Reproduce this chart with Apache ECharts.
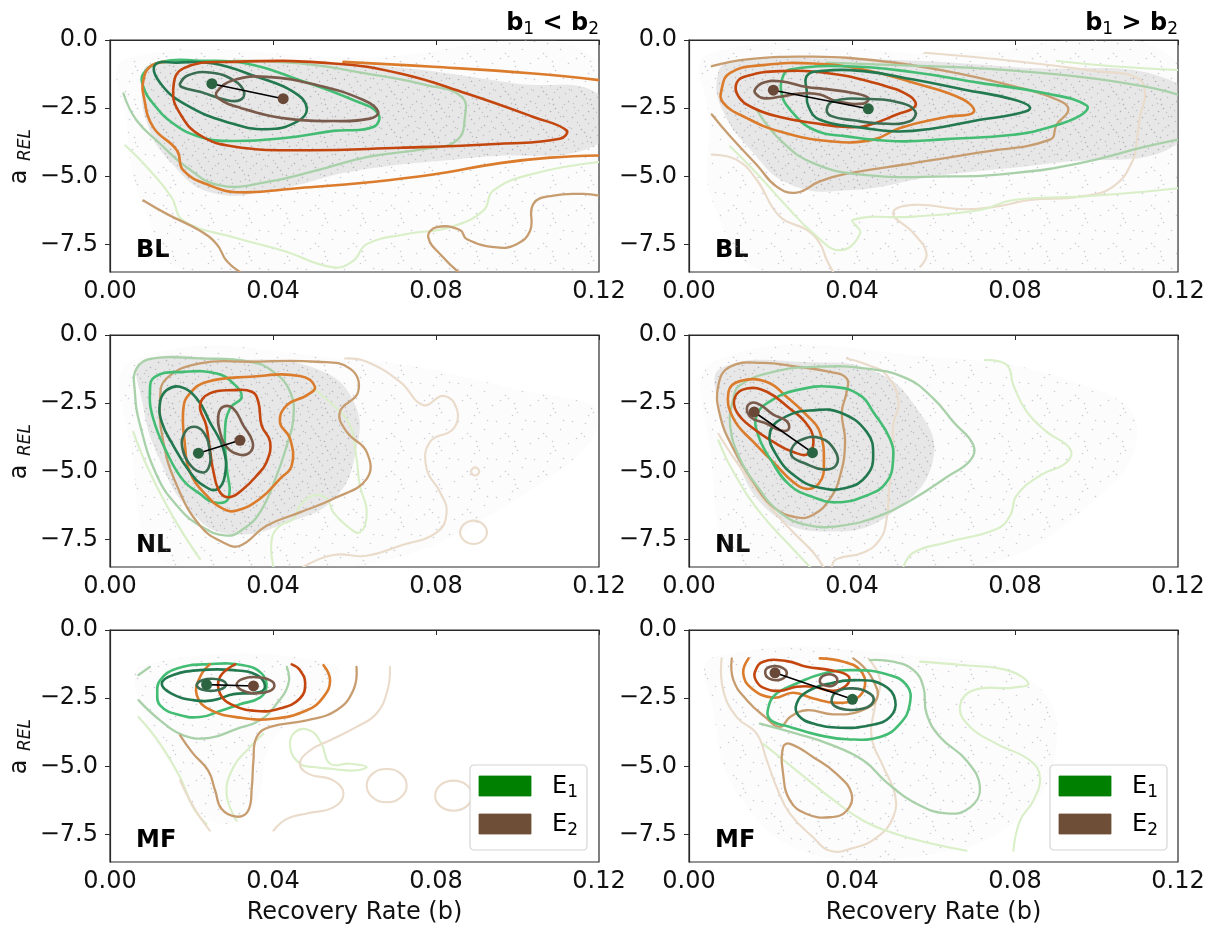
<!DOCTYPE html>
<html><head><meta charset="utf-8">
<script src="https://cdn.jsdelivr.net/npm/echarts@6/dist/echarts.min.js"></script>
<style>html,body{margin:0;padding:0;background:#fff}#c{width:1211px;height:931px}</style>
</head><body><div id="c"></div>
<script>
// ---------- DATA ----------
const xTicks = [0, 0.04, 0.08, 0.12];
const yTicks = [0, -2.5, -5, -7.5];
const panelLabels = ['BL', 'BL', 'NL', 'NL', 'MF', 'MF'];
const columnTitles = [['1', '<', '2'], ['1', '>', '2']];
const legendNames = ['E1', 'E2'];
const meansE1 = [[0.025,-1.6],[0.044,-2.52],[0.0217,-4.33],[0.0303,-4.31],[0.0237,-2.0],[0.0401,-2.54]];
const meansE2 = [[0.0425,-2.15],[0.0207,-1.84],[0.0319,-3.86],[0.016,-2.82],[0.0352,-2.05],[0.0211,-1.57]];

// scatter-cloud density outlines (outer sparse, inner dense)
const cloud_tl_out = [[0.004,-0.7],[0.06,-0.65],[0.12,-0.8],[0.12,-8.5],[0.02,-8.5],[0.008,-6],[0.004,-3]];
const cloud_tl_in = [[0.01,-0.9],[0.04,-0.8],[0.07,-1.0],[0.1,-1.6],[0.12,-2.0],[0.12,-3.8],[0.09,-4.3],[0.06,-4.8],[0.04,-5.5],[0.025,-5.6],[0.015,-4.5],[0.009,-3],[0.008,-1.5]];
const cloud_tr_out = [[0.005,-0.5],[0.06,-0.5],[0.12,-0.8],[0.12,-8.5],[0.02,-8.5],[0.006,-6],[0.005,-3]];
const cloud_tr_in = [[0.01,-0.8],[0.04,-0.7],[0.08,-1.0],[0.12,-1.6],[0.12,-3.8],[0.09,-4.5],[0.06,-5.0],[0.04,-5.5],[0.025,-5.3],[0.015,-4],[0.008,-2.5],[0.007,-1.3]];
const cloud_ml_out = [[0.006,-0.9],[0.06,-0.9],[0.1,-2],[0.12,-3],[0.1,-6],[0.06,-8.5],[0.015,-8.5],[0.005,-4]];
const cloud_ml_in = [[0.008,-1.0],[0.03,-0.9],[0.05,-1.2],[0.06,-2.5],[0.06,-4.5],[0.055,-6],[0.045,-6.8],[0.03,-7.3],[0.02,-6.5],[0.012,-4.5],[0.008,-2.5]];
const cloud_mr_out = [[0.007,-0.9],[0.06,-0.8],[0.1,-2],[0.11,-3.5],[0.1,-6],[0.07,-8.5],[0.015,-8.5],[0.005,-4]];
const cloud_mr_in = [[0.008,-1.2],[0.03,-1.0],[0.045,-1.3],[0.055,-2.5],[0.06,-4.5],[0.05,-6.5],[0.035,-7.2],[0.02,-6.5],[0.01,-4],[0.007,-2.5]];
const cloud_bl_in = [[0.008,-1.3],[0.055,-1.3],[0.05,-3],[0.04,-4],[0.035,-6.5],[0.025,-7],[0.015,-5],[0.008,-3]];
const cloud_br_in = [[0.006,-1.0],[0.06,-1.0],[0.085,-2],[0.09,-4.5],[0.08,-7],[0.06,-8.2],[0.03,-8.2],[0.012,-6],[0.006,-3]];

// ---- top-left (BL, b1<b2) ----
const tl_e1_1 = [[0.0172,-1.59],[0.0192,-1.29],[0.0245,-1.19],[0.0303,-1.47],[0.0329,-1.9],[0.0319,-2.2],[0.0286,-2.2],[0.0221,-1.9],[0.0176,-1.72]];
const tl_e1_2 = [[0.011,-0.92],[0.0164,-0.83],[0.0254,-0.86],[0.036,-1.35],[0.045,-1.9],[0.0483,-2.51],[0.0458,-3.0],[0.0384,-3.27],[0.0286,-3.0],[0.0188,-2.39],[0.0127,-1.65]];
const tl_e1_3 = [[0.0082,-1.23],[0.0127,-0.8],[0.0221,-0.76],[0.0335,-0.86],[0.0466,-1.47],[0.0597,-2.2],[0.0658,-2.7],[0.0646,-3.19],[0.0548,-3.33],[0.0434,-3.58],[0.0303,-3.7],[0.0221,-3.55],[0.0155,-3.06],[0.0106,-2.33],[0.0082,-1.72]];
const tl_e1_4 = [[0.0033,-1.96],[0.0065,-2.94],[0.0123,-3.8],[0.0188,-4.66],[0.027,-5.33],[0.0384,-5.21],[0.0507,-4.78],[0.063,-4.29],[0.0777,-3.98],[0.0851,-3.68],[0.0871,-2.82],[0.0863,-2.08],[0.0777,-1.65],[0.063,-1.23],[0.0466,-0.86],[0.0303,-0.76]];
const tl_e1_5 = [[0.0037,-3.86],[0.0098,-4.78],[0.0151,-5.76],[0.018,-6.62],[0.0303,-7.23],[0.0425,-7.72],[0.0548,-8.33],[0.0597,-8.09],[0.063,-7.48],[0.0728,-7.11],[0.0834,-6.86],[0.0916,-6.25],[0.0941,-5.51],[0.1039,-4.9],[0.12,-4.47]];
const tl_e2_1 = [[0.0262,-1.9],[0.0303,-1.47],[0.0384,-1.35],[0.0507,-1.65],[0.0622,-2.2],[0.0658,-2.63],[0.0638,-2.88],[0.0548,-2.97],[0.0434,-2.88],[0.0319,-2.48],[0.0266,-2.14]];
const tl_e2_2 = [[0.0155,-1.84],[0.018,-1.04],[0.0303,-0.8],[0.0548,-0.86],[0.0712,-1.23],[0.0875,-1.96],[0.1039,-2.82],[0.112,-3.31],[0.1104,-3.62],[0.0957,-3.8],[0.0712,-3.95],[0.0466,-4.04],[0.0303,-3.9],[0.0221,-3.49],[0.0172,-2.7]];
const tl_e2_3a = [[0.0135,-0.8],[0.0098,-0.98],[0.0082,-1.47],[0.0083,-2.08],[0.0106,-3.19],[0.0164,-4.04],[0.018,-4.78],[0.0245,-5.33],[0.0319,-5.58],[0.0466,-5.42],[0.063,-5.22],[0.0793,-4.93],[0.0957,-4.51],[0.108,-4.31],[0.12,-4.23]];
const tl_e2_3b = [[0.0573,-0.8],[0.0793,-0.98],[0.1039,-1.23],[0.12,-1.47]];
const tl_e2_4a = [[0.0082,-5.88],[0.0139,-6.37],[0.0221,-6.99],[0.0262,-7.48],[0.0286,-8.09],[0.0319,-8.5]];
const tl_e2_4b = [[0.0855,-8.5],[0.0818,-7.97],[0.0781,-7.23],[0.0802,-6.86],[0.0859,-6.96],[0.0875,-7.29],[0.0949,-7.6],[0.0998,-7.48],[0.1031,-6.99],[0.1039,-6.0],[0.1088,-5.7],[0.1162,-5.64],[0.12,-5.7]];

// ---- top-right (BL, b1>b2) ----
const tr_e2_1 = [[0.0162,-1.81],[0.0182,-1.57],[0.0223,-1.51],[0.0289,-1.72],[0.033,-1.79],[0.0403,-1.94],[0.044,-2.12],[0.0428,-2.33],[0.0362,-2.24],[0.0321,-2.0],[0.0272,-1.96],[0.0223,-2.08],[0.0182,-2.13],[0.0164,-1.97]];
const tr_e2_2 = [[0.0117,-1.57],[0.0142,-1.32],[0.0223,-1.14],[0.0346,-1.23],[0.0469,-1.63],[0.0542,-2.06],[0.0555,-2.43],[0.051,-2.73],[0.0436,-3.14],[0.0387,-3.19],[0.0305,-3.04],[0.0223,-2.82],[0.0158,-2.49],[0.0121,-2.06]];
const tr_e2_3 = [[0.008,-1.81],[0.0101,-1.2],[0.0182,-0.92],[0.0305,-0.86],[0.0428,-1.08],[0.0551,-1.57],[0.0673,-2.18],[0.0698,-2.65],[0.0632,-2.82],[0.0518,-3.22],[0.0452,-3.65],[0.0346,-3.71],[0.0223,-3.35],[0.0142,-2.86],[0.0084,-2.3]];
const tr_e2_4 = [[0.0056,-0.96],[0.0142,-0.71],[0.0305,-0.61],[0.0469,-0.77],[0.0632,-1.14],[0.0796,-1.69],[0.0902,-2.18],[0.0931,-2.55],[0.0902,-3.1],[0.0886,-3.65],[0.0714,-4.12],[0.0551,-4.51],[0.0387,-4.9],[0.0321,-5.18],[0.0264,-5.59],[0.0215,-5.37],[0.0166,-4.57],[0.0101,-3.53],[0.0056,-2.73]];
const tr_e2_5a = [[0.0579,-0.47],[0.0796,-0.77],[0.1,-1.14],[0.1099,-1.38],[0.1119,-1.94],[0.1107,-2.79],[0.1099,-3.65],[0.109,-4.39],[0.1041,-5.37],[0.096,-5.74],[0.0837,-5.86],[0.0755,-6.1],[0.0673,-6.2],[0.0551,-6.04],[0.0501,-6.35],[0.0551,-7.08],[0.0583,-7.82],[0.0567,-8.31]];
const tr_e2_5b = [[0.0056,-4.2],[0.0117,-4.39],[0.0166,-5.12],[0.0223,-6.47],[0.0289,-6.96],[0.0321,-7.45],[0.0338,-8.06],[0.0354,-8.5]];
const tr_e1_1 = [[0.0338,-2.55],[0.0354,-2.24],[0.0436,-2.16],[0.0518,-2.3],[0.0555,-2.61],[0.0542,-2.98],[0.0469,-3.06],[0.0403,-2.94],[0.035,-2.79]];
const tr_e1_2 = [[0.0289,-1.32],[0.0321,-1.14],[0.0428,-1.14],[0.0551,-1.45],[0.0673,-1.81],[0.0796,-2.18],[0.0837,-2.49],[0.0796,-2.73],[0.0714,-2.92],[0.0591,-3.26],[0.051,-3.35],[0.0428,-3.22],[0.0321,-2.92],[0.0293,-2.43],[0.0289,-1.88]];
const tr_e1_3 = [[0.0231,-1.32],[0.0248,-1.08],[0.0387,-0.96],[0.0551,-1.18],[0.0714,-1.57],[0.0878,-1.96],[0.0976,-2.4],[0.096,-2.77],[0.0878,-3.22],[0.0796,-3.47],[0.0632,-3.63],[0.051,-3.71],[0.0387,-3.53],[0.0305,-3.28],[0.0248,-2.55],[0.0227,-1.94]];
const tr_e1_4a = [[0.0338,-0.83],[0.051,-0.92],[0.0714,-1.04],[0.096,-1.35],[0.1123,-1.72],[0.12,-2.0]];
const tr_e1_4b = [[0.0166,-2.55],[0.0223,-3.65],[0.0305,-4.51],[0.0428,-4.94],[0.0632,-5.0],[0.0796,-4.88],[0.096,-4.51],[0.1123,-3.9],[0.12,-3.65]];
const tr_e1_5a = [[0.0902,-0.77],[0.1041,-0.96],[0.12,-1.1]];
const tr_e1_5b = [[0.0101,-3.9],[0.0166,-4.88],[0.024,-6.1],[0.0305,-7.08],[0.037,-7.7],[0.042,-7.08],[0.0403,-6.59],[0.0551,-6.47],[0.0714,-6.23],[0.0796,-5.86],[0.096,-5.74],[0.1123,-5.55],[0.12,-5.43]];

// ---- middle-left (NL, b1<b2) ----
const ml_e1_1 = [[0.018,-3.68],[0.02,-3.37],[0.0229,-3.55],[0.0245,-4.29],[0.0241,-4.9],[0.0221,-5.02],[0.0192,-4.66],[0.0178,-4.17]];
const ml_e1_2 = [[0.0123,-2.45],[0.0139,-2.02],[0.0172,-1.9],[0.0213,-2.33],[0.0245,-3.19],[0.0278,-4.17],[0.0282,-5.15],[0.0262,-5.66],[0.0229,-5.51],[0.0196,-5.02],[0.0155,-4.04],[0.0127,-3.19]];
const ml_e1_3 = [[0.0098,-2.08],[0.011,-1.53],[0.018,-1.35],[0.0262,-1.41],[0.0303,-1.78],[0.0323,-2.27],[0.0294,-2.7],[0.0282,-3.55],[0.0286,-4.78],[0.029,-6.0],[0.0254,-6.13],[0.0221,-5.82],[0.018,-5.33],[0.0139,-4.29],[0.0106,-3.06]];
const ml_e1_4 = [[0.0065,-1.23],[0.0106,-0.86],[0.0221,-0.86],[0.0344,-0.98],[0.0401,-1.35],[0.0442,-2.08],[0.045,-3.06],[0.0434,-4.04],[0.0409,-5.15],[0.0368,-6.5],[0.0327,-7.11],[0.0286,-7.35],[0.0221,-6.99],[0.0164,-6.25],[0.0115,-5.15],[0.0074,-3.31],[0.0061,-2.08]];
const ml_e1_5a = [[0.0057,-3.55],[0.009,-4.78],[0.0139,-6.25],[0.0188,-7.48],[0.0221,-8.21]];
const ml_e1_5b = [[0.0401,-8.5],[0.0397,-7.48],[0.0417,-6.99],[0.045,-6.74],[0.0466,-6.25],[0.0499,-5.88],[0.0532,-6.0],[0.0548,-6.5],[0.0581,-6.99],[0.0613,-7.23],[0.063,-6.5],[0.0613,-5.51],[0.0605,-4.53],[0.0589,-3.31],[0.0548,-2.57],[0.0499,-1.96]];
const ml_e2_1 = [[0.0266,-2.94],[0.0278,-2.63],[0.0303,-2.7],[0.0327,-3.31],[0.035,-3.92],[0.0344,-4.29],[0.0319,-4.39],[0.0286,-4.1],[0.027,-3.55]];
const ml_e2_2 = [[0.0221,-2.57],[0.0245,-2.14],[0.0303,-2.02],[0.0348,-2.08],[0.0364,-2.45],[0.0372,-3.31],[0.0393,-3.92],[0.0384,-4.66],[0.036,-5.15],[0.0327,-5.64],[0.0294,-5.94],[0.027,-5.76],[0.0254,-5.02],[0.0245,-4.17],[0.0236,-3.31]];
const ml_e2_3 = [[0.018,-2.7],[0.0196,-2.14],[0.0237,-1.72],[0.0344,-1.53],[0.0466,-1.5],[0.0503,-1.9],[0.0483,-2.21],[0.0434,-2.57],[0.0417,-3.19],[0.0442,-3.8],[0.0446,-4.78],[0.0417,-5.27],[0.0368,-6.0],[0.0311,-6.43],[0.0278,-6.37],[0.0237,-5.88],[0.0196,-5.02],[0.0184,-4.04]];
const ml_e2_4 = [[0.0123,-2.33],[0.0139,-1.59],[0.0221,-1.04],[0.0344,-0.98],[0.0507,-0.98],[0.0589,-1.23],[0.0609,-2.08],[0.0564,-2.82],[0.0581,-3.55],[0.063,-4.29],[0.063,-5.27],[0.0548,-6.0],[0.0466,-6.5],[0.0384,-6.99],[0.0319,-7.72],[0.0278,-7.6],[0.0221,-6.99],[0.0164,-5.51],[0.0131,-3.92]];
const ml_e2_5a = [[0.0577,-0.86],[0.063,-0.98],[0.0712,-1.72],[0.0769,-2.57],[0.0818,-2.23],[0.0851,-2.7],[0.0843,-3.43],[0.0785,-3.92],[0.0777,-4.9],[0.081,-5.76],[0.0826,-6.5],[0.0802,-7.23],[0.0712,-7.72],[0.063,-8.09],[0.0548,-8.06],[0.0474,-8.5]];
const ml_e2_5b = [[0.0896,-4.85],[0.0906,-5.0],[0.0896,-5.15],[0.0886,-5.0]];
const ml_e2_5c = [[0.0892,-6.8],[0.0915,-6.93],[0.0925,-7.23],[0.0915,-7.53],[0.0892,-7.66],[0.0869,-7.53],[0.0859,-7.23],[0.0869,-6.93]];

// ---- middle-right (NL, b1>b2) ----
const mr_e2_1 = [[0.0142,-2.7],[0.0154,-2.48],[0.0174,-2.55],[0.0207,-2.92],[0.024,-3.16],[0.0244,-3.46],[0.0223,-3.49],[0.0191,-3.25],[0.0154,-3.04]];
const mr_e2_2 = [[0.0113,-2.27],[0.0142,-1.96],[0.0191,-2.08],[0.0248,-2.7],[0.0285,-3.19],[0.0305,-3.8],[0.0293,-4.35],[0.0256,-4.29],[0.0207,-3.92],[0.0158,-3.43],[0.0117,-2.82]];
const mr_e2_3 = [[0.0097,-2.08],[0.0125,-1.69],[0.0191,-1.72],[0.024,-2.27],[0.0289,-2.94],[0.0321,-3.55],[0.0331,-4.78],[0.0321,-5.39],[0.0293,-5.64],[0.0256,-5.39],[0.0207,-4.66],[0.0158,-3.92],[0.0109,-3.06]];
const mr_e2_4 = [[0.0072,-1.84],[0.0101,-1.16],[0.0182,-1.02],[0.0264,-1.16],[0.0346,-1.35],[0.0387,-1.59],[0.0387,-2.08],[0.0375,-2.82],[0.0383,-3.92],[0.0371,-5.15],[0.0346,-6.0],[0.0305,-6.59],[0.0264,-6.68],[0.0207,-6.31],[0.0158,-5.39],[0.0109,-4.17],[0.0076,-2.94]];
const mr_e2_5a = [[0.0387,-0.86],[0.0436,-1.08],[0.0485,-1.47],[0.0514,-2.45],[0.0501,-3.31],[0.0501,-4.53],[0.0492,-5.51],[0.0485,-6.74],[0.0469,-7.48],[0.0428,-7.97],[0.0362,-8.21],[0.035,-8.5]];
const mr_e2_5b = [[0.0072,-3.62],[0.0117,-4.66],[0.0182,-6.0],[0.0248,-7.11],[0.0305,-7.97],[0.033,-8.5]];
const mr_e1_1 = [[0.0252,-4.17],[0.0272,-3.86],[0.0321,-3.77],[0.0358,-4.23],[0.0362,-4.75],[0.033,-4.93],[0.0281,-4.68],[0.0254,-4.47]];
const mr_e1_2 = [[0.0199,-3.55],[0.024,-2.97],[0.0305,-2.76],[0.0371,-2.84],[0.0436,-3.55],[0.0452,-4.41],[0.0436,-5.15],[0.0387,-5.6],[0.0321,-5.6],[0.0264,-5.21],[0.0215,-4.41]];
const mr_e1_3 = [[0.0166,-2.94],[0.0199,-2.43],[0.0264,-2.02],[0.0354,-1.9],[0.042,-2.21],[0.0452,-2.82],[0.0493,-3.8],[0.0501,-4.53],[0.0485,-5.39],[0.0436,-5.88],[0.0362,-6.13],[0.0305,-5.94],[0.0248,-5.51],[0.0199,-4.53],[0.017,-3.68]];
const mr_e1_4 = [[0.0125,-1.84],[0.0207,-1.35],[0.0321,-1.16],[0.0436,-1.23],[0.0534,-1.59],[0.06,-2.33],[0.0649,-3.19],[0.0698,-4.04],[0.069,-4.6],[0.0632,-5.21],[0.0551,-6.0],[0.0469,-6.62],[0.0371,-6.99],[0.0289,-6.96],[0.0223,-6.5],[0.0166,-5.51],[0.0125,-4.53],[0.0101,-3.31],[0.0109,-2.33]];
const mr_e1_5a = [[0.0726,-0.92],[0.078,-1.1],[0.0796,-1.84],[0.0829,-2.82],[0.0878,-3.55],[0.0935,-4.17],[0.0927,-4.66],[0.0861,-5.15],[0.0804,-5.88],[0.0788,-6.62],[0.0755,-7.11],[0.0632,-7.6],[0.0551,-7.97],[0.0526,-8.5]];
const mr_e1_5b = [[0.0072,-3.86],[0.0109,-5.02],[0.0174,-6.5],[0.0248,-7.72],[0.0297,-8.5]];

// ---- bottom-left (MF, b1<b2) ----
const bl_e1_1 = [[0.0213,-1.99],[0.0237,-1.8],[0.0274,-1.84],[0.0285,-2.02],[0.0262,-2.21],[0.0225,-2.18]];
const bl_e1_2 = [[0.0127,-1.96],[0.0155,-1.65],[0.0221,-1.47],[0.0303,-1.47],[0.036,-1.65],[0.038,-2.02],[0.0368,-2.27],[0.0303,-2.35],[0.0254,-2.57],[0.0204,-2.57],[0.0151,-2.33]];
const bl_e1_3 = [[0.0116,-2.33],[0.0123,-1.84],[0.0164,-1.41],[0.0245,-1.25],[0.0327,-1.29],[0.0372,-1.59],[0.0384,-2.08],[0.0368,-2.48],[0.0319,-2.72],[0.027,-2.97],[0.0221,-3.19],[0.0164,-3.09],[0.0123,-2.76]];
const bl_e1_4a = [[0.007,-2.57],[0.0123,-3.31],[0.018,-3.86],[0.0245,-3.95],[0.0311,-3.62],[0.0368,-3.31],[0.0409,-2.7],[0.0438,-1.96],[0.0434,-1.35]];
const bl_e1_4b = [[0.007,-1.65],[0.0098,-1.35]];
const bl_e1_5a = [[0.007,-3.19],[0.0123,-4.17],[0.0172,-5.39],[0.0204,-6.5],[0.0237,-7.11]];
const bl_e1_5b = [[0.0466,-4.9],[0.0442,-4.29],[0.0454,-3.74],[0.0491,-3.68],[0.0519,-4.17],[0.054,-4.9],[0.0589,-4.9],[0.063,-5.02],[0.0597,-5.15],[0.0548,-5.09],[0.0499,-5.02]];
const bl_e1_5c = [[0.0311,-6.99],[0.0286,-6.0],[0.0303,-5.02],[0.0336,-4.41],[0.0376,-3.8]];
const bl_e2_1 = [[0.0311,-2.02],[0.0327,-1.79],[0.0368,-1.74],[0.0399,-1.9],[0.0401,-2.14],[0.0376,-2.3],[0.0335,-2.27]];
const bl_e2_2 = [[0.0307,-1.26],[0.027,-1.72],[0.027,-2.33],[0.0303,-2.76],[0.036,-2.97],[0.0417,-2.88],[0.0466,-2.51],[0.0479,-1.96],[0.0466,-1.47],[0.0446,-1.26]];
const bl_e2_3 = [[0.0245,-1.26],[0.0221,-1.72],[0.0213,-2.39],[0.0245,-2.92],[0.0319,-3.21],[0.0401,-3.25],[0.0483,-2.94],[0.0524,-2.45],[0.054,-1.84],[0.0524,-1.29]];
const bl_e2_4 = [[0.0172,-3.86],[0.0204,-4.53],[0.0241,-5.15],[0.0258,-5.88],[0.0274,-6.56],[0.0311,-6.84],[0.0339,-6.62],[0.0348,-5.76],[0.0352,-4.78],[0.036,-3.92],[0.0393,-3.55],[0.0483,-3.31],[0.0556,-2.94],[0.0597,-2.21],[0.0605,-1.35]];
const bl_e2_5a = [[0.0687,-1.35],[0.0681,-2.21],[0.0654,-3.06],[0.0605,-3.55],[0.054,-4.04],[0.0491,-4.41],[0.0466,-4.9],[0.0487,-5.27],[0.0548,-5.51],[0.0573,-6.0],[0.0548,-6.5],[0.0483,-6.72],[0.0434,-6.92],[0.0401,-7.35]];
const bl_e2_5b = [[0.0679,-5.09],[0.0714,-5.27],[0.0728,-5.7],[0.0714,-6.13],[0.0679,-6.31],[0.0644,-6.13],[0.063,-5.7],[0.0644,-5.27]];
const bl_e2_5c = [[0.0843,-5.52],[0.0875,-5.68],[0.0888,-6.07],[0.0875,-6.46],[0.0843,-6.62],[0.0811,-6.46],[0.0798,-6.07],[0.0811,-5.68]];
const bl_e2_5d = [[0.0172,-5.51],[0.0196,-6.25],[0.0221,-6.86],[0.0245,-7.35]];

// ---- bottom-right (MF, b1>b2) ----
const br_e2_1a = [[0.0187,-1.53],[0.0199,-1.35],[0.0223,-1.35],[0.024,-1.57],[0.0225,-1.81],[0.0197,-1.78]];
const br_e2_1b = [[0.0321,-1.84],[0.0334,-1.65],[0.0354,-1.65],[0.0364,-1.84],[0.0354,-2.03],[0.033,-2.02]];
const br_e2_2 = [[0.0162,-1.53],[0.0182,-1.16],[0.024,-1.14],[0.0289,-1.35],[0.0346,-1.47],[0.0391,-1.69],[0.0387,-2.02],[0.0354,-2.23],[0.0305,-2.08],[0.0264,-2.08],[0.0223,-2.23],[0.0182,-2.11],[0.0164,-1.84]];
const br_e2_3 = [[0.0146,-1.04],[0.0133,-1.59],[0.0154,-2.14],[0.0207,-2.48],[0.0256,-2.3],[0.0305,-2.51],[0.0362,-2.67],[0.0411,-2.51],[0.0432,-2.02],[0.042,-1.47],[0.0379,-1.16],[0.0321,-1.04]];
const br_e2_4a = [[0.0105,-1.04],[0.0109,-1.84],[0.0142,-2.57],[0.0187,-3.19],[0.0223,-3.55],[0.0248,-3.19],[0.0289,-2.94],[0.0354,-3.09],[0.042,-2.97],[0.0461,-2.51],[0.0452,-1.84],[0.0428,-1.35],[0.0403,-1.04]];
const br_e2_4b = [[0.0231,-4.29],[0.0248,-4.17],[0.0305,-4.66],[0.0362,-5.27],[0.0399,-6.0],[0.0387,-6.62],[0.0346,-6.86],[0.0289,-6.74],[0.0248,-6.25],[0.0231,-5.27]];
const br_e2_5 = [[0.008,-1.04],[0.0084,-2.21],[0.0117,-3.19],[0.0166,-3.8],[0.0191,-4.78],[0.0215,-5.76],[0.0248,-6.74],[0.0305,-7.6],[0.0346,-8.09],[0.0403,-7.99],[0.0461,-7.6],[0.0501,-6.86],[0.0505,-6.0],[0.0477,-5.02],[0.0448,-3.92],[0.0456,-2.82],[0.0469,-1.84],[0.044,-1.04]];
const br_e1_1 = [[0.035,-2.57],[0.0362,-2.27],[0.0403,-2.14],[0.0444,-2.33],[0.0452,-2.63],[0.0428,-2.88],[0.0387,-2.92],[0.0358,-2.79]];
const br_e1_2 = [[0.0264,-2.7],[0.0289,-2.27],[0.0346,-1.96],[0.042,-1.84],[0.0477,-2.02],[0.0506,-2.57],[0.0493,-3.19],[0.0444,-3.49],[0.0371,-3.58],[0.0305,-3.43],[0.0268,-3.12]];
const br_e1_3 = [[0.0195,-2.82],[0.0215,-2.33],[0.0264,-1.96],[0.033,-1.59],[0.0403,-1.47],[0.0485,-1.62],[0.0534,-2.02],[0.0542,-2.7],[0.0518,-3.43],[0.0469,-3.92],[0.0387,-4.0],[0.0321,-3.86],[0.0248,-3.55],[0.0199,-3.28]];
const br_e1_4 = [[0.0174,-3.43],[0.0264,-3.8],[0.0346,-4.19],[0.0428,-4.78],[0.0485,-5.58],[0.0551,-6.31],[0.0632,-6.72],[0.069,-6.5],[0.0714,-5.76],[0.0681,-4.78],[0.0616,-3.92],[0.0583,-3.06],[0.0575,-2.08],[0.0551,-1.47],[0.0501,-1.16],[0.0444,-1.1]];
const br_e1_5a = [[0.0567,-1.16],[0.0673,-1.29],[0.078,-1.47],[0.0833,-1.96],[0.0796,-2.11],[0.0698,-2.21],[0.0665,-2.82],[0.069,-3.55],[0.0755,-4.17],[0.0837,-4.78],[0.0861,-5.39],[0.0845,-6.25],[0.0812,-6.99],[0.0796,-8.09]];
const br_e1_5b = [[0.0182,-4.17],[0.0264,-5.15],[0.0346,-6.13],[0.0428,-6.99],[0.051,-7.48],[0.06,-7.84],[0.0681,-8.09]];

// ---------- ASSEMBLY ----------
// [panel, group, level, closed, points]
const contours = [
 [0,'E1',1,true,tl_e1_1],[0,'E1',2,true,tl_e1_2],[0,'E1',3,true,tl_e1_3],[0,'E1',4,false,tl_e1_4],[0,'E1',5,false,tl_e1_5],
 [0,'E2',1,true,tl_e2_1],[0,'E2',2,true,tl_e2_2],[0,'E2',3,false,tl_e2_3a],[0,'E2',3,false,tl_e2_3b],[0,'E2',4,false,tl_e2_4a],[0,'E2',4,false,tl_e2_4b],
 [1,'E2',1,true,tr_e2_1],[1,'E2',2,true,tr_e2_2],[1,'E2',3,true,tr_e2_3],[1,'E2',4,false,tr_e2_4],[1,'E2',5,false,tr_e2_5a],[1,'E2',5,false,tr_e2_5b],
 [1,'E1',1,true,tr_e1_1],[1,'E1',2,true,tr_e1_2],[1,'E1',3,true,tr_e1_3],[1,'E1',4,false,tr_e1_4a],[1,'E1',4,false,tr_e1_4b],[1,'E1',5,false,tr_e1_5a],[1,'E1',5,false,tr_e1_5b],
 [2,'E1',1,true,ml_e1_1],[2,'E1',2,true,ml_e1_2],[2,'E1',3,true,ml_e1_3],[2,'E1',4,true,ml_e1_4],[2,'E1',5,false,ml_e1_5a],[2,'E1',5,false,ml_e1_5b],
 [2,'E2',1,true,ml_e2_1],[2,'E2',2,true,ml_e2_2],[2,'E2',3,true,ml_e2_3],[2,'E2',4,true,ml_e2_4],[2,'E2',5,false,ml_e2_5a],[2,'E2',5,true,ml_e2_5b],[2,'E2',5,true,ml_e2_5c],
 [3,'E2',1,true,mr_e2_1],[3,'E2',2,true,mr_e2_2],[3,'E2',3,true,mr_e2_3],[3,'E2',4,true,mr_e2_4],[3,'E2',5,false,mr_e2_5a],[3,'E2',5,false,mr_e2_5b],
 [3,'E1',1,true,mr_e1_1],[3,'E1',2,true,mr_e1_2],[3,'E1',3,true,mr_e1_3],[3,'E1',4,true,mr_e1_4],[3,'E1',5,false,mr_e1_5a],[3,'E1',5,false,mr_e1_5b],
 [4,'E1',1,true,bl_e1_1],[4,'E1',2,true,bl_e1_2],[4,'E1',3,true,bl_e1_3],[4,'E1',4,false,bl_e1_4a],[4,'E1',4,false,bl_e1_4b],[4,'E1',5,false,bl_e1_5a],[4,'E1',5,true,bl_e1_5b],[4,'E1',5,false,bl_e1_5c],
 [4,'E2',1,true,bl_e2_1],[4,'E2',2,false,bl_e2_2],[4,'E2',3,false,bl_e2_3],[4,'E2',4,false,bl_e2_4],[4,'E2',5,false,bl_e2_5a],[4,'E2',5,true,bl_e2_5b],[4,'E2',5,true,bl_e2_5c],[4,'E2',5,false,bl_e2_5d],
 [5,'E2',1,true,br_e2_1a],[5,'E2',1,true,br_e2_1b],[5,'E2',2,true,br_e2_2],[5,'E2',3,false,br_e2_3],[5,'E2',4,false,br_e2_4a],[5,'E2',4,true,br_e2_4b],[5,'E2',5,false,br_e2_5],
 [5,'E1',1,true,br_e1_1],[5,'E1',2,true,br_e1_2],[5,'E1',3,true,br_e1_3],[5,'E1',4,false,br_e1_4],[5,'E1',5,false,br_e1_5a],[5,'E1',5,false,br_e1_5b]
];
const clouds = [
 [0,cloud_tl_out,0],[0,cloud_tl_in,1],[1,cloud_tr_out,0],[1,cloud_tr_in,1],
 [2,cloud_ml_out,0],[2,cloud_ml_in,1],[3,cloud_mr_out,0],[3,cloud_mr_in,1],
 [4,cloud_bl_in,0],[5,cloud_br_in,0]
];

const FONT = 'DejaVu Sans';
const colE1 = {1:'#3a6d52', 2:'#22784f', 3:'#44bd74', 4:'#a9d1a9', 5:'#d9efc7'};
const colE2 = {1:'#7a5a4a', 2:'#c4460f', 3:'#db7b2c', 4:'#c79d70', 5:'#eadbca'};
const lw = {1:2.6, 2:2.6, 3:2.6, 4:2.3, 5:2.1};

// stipple texture for the grey scatter cloud (style only, irregular hand-placed tile)
const stippleDots = [[2,3],[13,1],[23,4],[31,2],[7,8],[18,9],[28,11],[35,7],[1,14],[11,15],[22,16],[33,17],[6,20],[16,22],[27,21],[36,25],[3,27],[12,29],[21,28],[30,31],[8,34],[18,35],[26,36],[34,34],[15,5],[25,13],[4,31],[20,23],[9,11],[32,28],[14,18],[28,2],[37,13],[23,32],[5,37],[17,27]];
function makeStipple(bg, dotColor, step, r) {
  const S = 38;
  const c = document.createElement('canvas');
  c.width = S; c.height = S;
  const ctx = c.getContext('2d');
  if (bg) { ctx.fillStyle = bg; ctx.fillRect(0, 0, S, S); }
  ctx.fillStyle = dotColor;
  stippleDots.forEach((d, k) => {
    if (k % step !== 0) return;
    ctx.beginPath(); ctx.arc(d[0] + 0.5, d[1] + 0.5, r, 0, Math.PI * 2); ctx.fill();
  });
  return c;
}
const cloudFill = [
  {image: makeStipple('rgba(215,215,215,0.08)', 'rgba(165,165,180,0.55)', 3, 0.8), repeat:'repeat'},
  {image: makeStipple('rgba(200,200,200,0.40)', 'rgba(160,160,172,0.55)', 1, 0.75), repeat:'repeat'}
];

const gridPos = [[110,40],[689,40],[110,335],[689,335],[110,630],[689,630]];
const grids = gridPos.map(p => ({left:p[0], top:p[1], width:489, height:232, show:true, borderColor:'#2a2a2a', borderWidth:1.2, backgroundColor:'transparent'}));

const xAxes = gridPos.map((p, i) => ({
  type:'value', gridIndex:i, min:0, max:0.12,
  axisLine:{show:true, lineStyle:{color:'#2a2a2a', width:1.2}},
  axisTick:{show:true, length:5, customValues:xTicks, lineStyle:{color:'#2a2a2a'}},
  axisLabel:{customValues:xTicks, fontSize:24, fontFamily:FONT, color:'#111', margin:8, formatter:v => v.toFixed(2)},
  splitLine:{show:false},
  name: i >= 4 ? 'Recovery Rate (b)' : '', nameLocation:'middle', nameGap:39,
  nameTextStyle:{fontSize:24, fontFamily:FONT, color:'#111'}
}));
const yAxes = gridPos.map((p, i) => ({
  type:'value', gridIndex:i, min:-8.5, max:0,
  axisLine:{show:true, lineStyle:{color:'#2a2a2a', width:1.2}},
  axisTick:{show:true, length:5, customValues:yTicks, lineStyle:{color:'#2a2a2a'}},
  axisLabel:{customValues:yTicks, fontSize:24, fontFamily:FONT, color:'#111', margin:12,
    formatter:v => (v < 0 ? '\u2212' : '') + Math.abs(v).toFixed(1)},
  splitLine:{show:false}
}));

function pathSeries(gi, pts, closed, style, z) {
  return {
    type:'custom', xAxisIndex:gi, yAxisIndex:gi, clip:true, silent:true, z:z,
    animation:false, data:[pts[0]],
    renderItem:(params, api) => ({
      type: closed ? 'polygon' : 'polyline',
      shape:{points: pts.map(p => api.coord(p)), smooth:0.45},
      style: style
    })
  };
}

const series = [];
clouds.forEach(c => series.push(pathSeries(c[0], c[1], true, {fill:cloudFill[c[2]], stroke:'none'}, 1)));
[5,4,3,2,1].forEach(level => {
  contours.filter(c => c[2] === level).forEach(c => {
    const col = c[1] === 'E1' ? colE1[level] : colE2[level];
    series.push(pathSeries(c[0], c[4], c[3], {fill:'none', stroke:col, lineWidth:lw[level], lineJoin:'round', lineCap:'round'}, 2 + (6 - level)));
  });
});
for (let i = 0; i < 6; i++) {
  series.push({type:'line', xAxisIndex:i, yAxisIndex:i, data:[meansE1[i], meansE2[i]], symbol:'none', silent:true,
    lineStyle:{color:'#000', width:1.6}, z:10, animation:false});
  series.push({type:'scatter', xAxisIndex:i, yAxisIndex:i, symbolSize:11, silent:true, z:11, animation:false,
    data:[{value:meansE1[i], itemStyle:{color:'#2b6440', opacity:1}}, {value:meansE2[i], itemStyle:{color:'#6a4837', opacity:1}}]});
}

// ---------- TEXT / LEGEND GRAPHICS ----------
const graphic = [];
const subRich = (bold) => ({
  m:{fontSize:24, fontFamily:FONT, fontWeight: bold ? 'bold' : 'normal', fill:'#000'},
  s:{fontSize:17, fontFamily:FONT, fill:'#000', padding:[12,0,0,0]}
});
columnTitles.forEach((t, k) => {
  graphic.push({type:'text', x: k === 0 ? 599 : 1178, y:24, silent:true,
    style:{text:'{m|b}{s|' + t[0] + '}{m| ' + t[1] + ' b}{s|' + t[2] + '}', align:'right', verticalAlign:'middle', rich:subRich(true)}});
});
gridPos.forEach((p, i) => {
  graphic.push({type:'text', x:p[0] + 26, y:p[1] + 211, silent:true,
    style:{text:panelLabels[i], fontSize:24, fontWeight:'bold', fontFamily:FONT, fill:'#000', align:'left', verticalAlign:'middle'}});
  if (i % 2 === 0) {
    const yc = p[1] + 137;
    graphic.push({type:'text', x:20, y:yc, rotation:Math.PI/2, silent:true,
      style:{text:'a', fontSize:24, fontFamily:FONT, fill:'#111', align:'center', verticalAlign:'middle'}});
    graphic.push({type:'text', x:26, y:yc - 32, rotation:Math.PI/2, silent:true,
      style:{text:'REL', fontSize:17, fontStyle:'italic', fontFamily:FONT, fill:'#111', align:'center', verticalAlign:'middle'}});
  }
});
const legendColors = ['#008000', '#6f4e37'];
[470, 1050].forEach(x0 => {
  const y0 = 765;
  graphic.push({type:'rect', x:x0, y:y0, shape:{width:117, height:85, r:4}, silent:true,
    style:{fill:'rgba(255,255,255,0.85)', stroke:'#d5d5d5', lineWidth:1.2}, z:20});
  legendNames.forEach((nm, j) => {
    graphic.push({type:'rect', x:x0 + 9, y:y0 + 11 + j * 38, shape:{width:52, height:20}, silent:true,
      style:{fill:legendColors[j], stroke:legendColors[j], lineWidth:0.8}, z:21});
    graphic.push({type:'text', x:x0 + 82, y:y0 + 22 + j * 38, silent:true, z:21,
      style:{text:'{m|' + nm[0] + '}{s|' + nm.slice(1) + '}', align:'left', verticalAlign:'middle', rich:subRich(false)}});
  });
});

const chart = echarts.init(document.getElementById('c'), null, {renderer:'canvas'});
chart.setOption({
  animation:false,
  backgroundColor:'#fff',
  grid:grids, xAxis:xAxes, yAxis:yAxes,
  series:series,
  graphic:graphic
});
</script></body></html>
